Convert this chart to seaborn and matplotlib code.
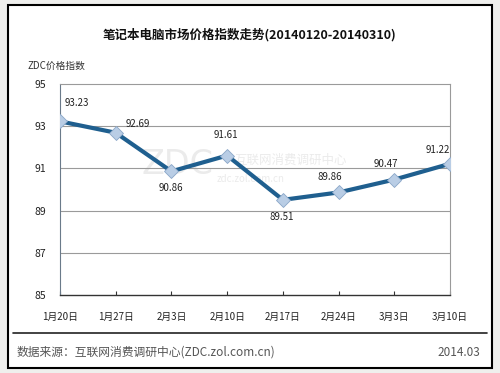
import matplotlib
matplotlib.use('Agg')
import matplotlib.pyplot as plt
from matplotlib.patches import Rectangle
from matplotlib.lines import Line2D
import seaborn as sns
import pandas as pd

# data
dates = ['1月20日', '1月27日', '2月3日', '2月10日', '2月17日', '2月24日', '3月3日', '3月10日']
values = [93.23, 92.69, 90.86, 91.61, 89.51, 89.86, 90.47, 91.22]
yticks = [85, 87, 89, 91, 93, 95]
# label offsets (points) as in the original
offsets = [(12, 13), (16, 6), (0, -12), (-1, 15), (-1, -12), (-6, 11), (-6, 11), (-9, 10)]

df = pd.DataFrame({'idx': range(len(dates)), 'date': dates, 'value': values})

sns.set_style('white')
plt.rcParams['font.family'] = ['Noto Sans CJK SC', 'DejaVu Sans']

fig = plt.figure(figsize=(5, 3.73), dpi=100)
fig.patch.set_facecolor('#efefed')

# white panel with black frame
fig.patches.append(Rectangle((8 / 500, 1 - 368 / 373), 484 / 500, 363 / 373,
                             transform=fig.transFigure, facecolor='white',
                             edgecolor='black', linewidth=1.5, zorder=-10))
fig.lines.append(Line2D([13 / 500, 487 / 500], [1 - 333 / 373, 1 - 333 / 373],
                        transform=fig.transFigure, color='#222222', linewidth=1.2))

ax = fig.add_axes([0.12, 1 - 295 / 373, 0.78, 211 / 373])
ax.set_facecolor('white')

# faint watermark
ax.text(0.30, 0.62, 'ZDC', transform=ax.transAxes, fontsize=24, color='#ebebeb',
        ha='center', va='center', zorder=0, family=['DejaVu Sans'])
ax.text(0.59, 0.64, '互联网消费调研中心', transform=ax.transAxes, fontsize=9,
        color='#ebebeb', ha='center', va='center', zorder=0)
ax.text(0.49, 0.55, 'zdc.zol.com.cn', transform=ax.transAxes, fontsize=7,
        color='#ebebeb', ha='center', va='center', zorder=0)

for y in yticks[1:-1]:
    ax.axhline(y, color='#9a9a9a', linewidth=0.8, zorder=1)

sns.lineplot(data=df, x='idx', y='value', ax=ax, color='#1f5f8f', linewidth=3,
             marker='D', markersize=7, markerfacecolor='#b9cde5',
             markeredgecolor='#8aa6c8', markeredgewidth=0.6, zorder=3)

for i, (v, off) in enumerate(zip(values, offsets)):
    ax.annotate(f'{v:.2f}', (i, v), textcoords='offset points', xytext=off,
                ha='center', va='center', fontsize=7, color='#222222')

ax.set_xlim(0, len(dates) - 1)
ax.set_ylim(85, 95)
ax.set_xticks(range(len(dates)))
ax.set_xticklabels(dates)
ax.set_yticks(yticks)
ax.set_xlabel('')
ax.set_ylabel('')
ax.tick_params(axis='x', direction='in', length=3, width=0.8, color='#333333',
               labelsize=7, pad=12, bottom=True)
ax.tick_params(axis='y', length=0, labelsize=7.5, pad=10, left=False)
for tl in ax.get_xticklabels() + ax.get_yticklabels():
    tl.set_color('#222222')

for s in ['top', 'right']:
    ax.spines[s].set_color('#9a9a9a')
    ax.spines[s].set_linewidth(0.8)
ax.spines['left'].set_color('#6a7a8a')
ax.spines['left'].set_linewidth(0.8)
ax.spines['bottom'].set_color('#333333')
ax.spines['bottom'].set_linewidth(1.0)

fig.text(0.5, 1 - 35 / 373, '笔记本电脑市场价格指数走势(20140120-20140310)',
         ha='center', va='center', fontsize=9, fontweight='bold', color='#111111')
fig.text(28 / 500, 1 - 66 / 373, 'ZDC价格指数', ha='left', va='center',
         fontsize=7, color='#333333')
fig.text(17 / 500, 1 - 352 / 373, '数据来源：互联网消费调研中心(ZDC.zol.com.cn)',
         ha='left', va='center', fontsize=8.5, color='#555555')
fig.text(480 / 500, 1 - 352 / 373, '2014.03', ha='right', va='center',
         fontsize=8.5, color='#555555')

fig.savefig('out.png', dpi=100, facecolor=fig.get_facecolor())
